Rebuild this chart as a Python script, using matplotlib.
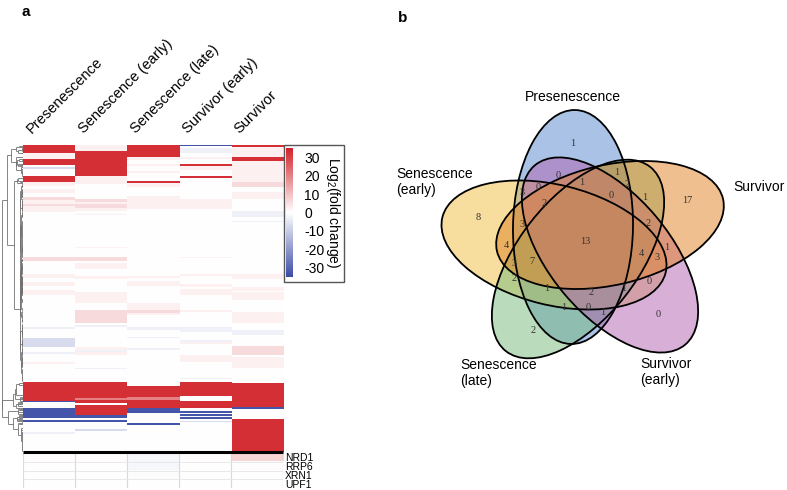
import numpy as np
import matplotlib
matplotlib.use("Agg")
import matplotlib.pyplot as plt
from matplotlib.colors import LinearSegmentedColormap, Normalize
from matplotlib.cm import ScalarMappable
from matplotlib.patches import Ellipse, Rectangle
from matplotlib.collections import LineCollection

plt.rcParams['font.family'] = ['Liberation Sans', 'DejaVu Sans']
plt.rcParams['mathtext.fontset'] = 'custom'
plt.rcParams['mathtext.rm'] = 'Liberation Sans'
plt.rcParams['mathtext.it'] = 'Liberation Sans:italic'

# ---------------- DATA ----------------
conditions = ["Presenescence", "Senescence (early)", "Senescence (late)",
              "Survivor (early)", "Survivor"]
# log2 fold-change levels used by the run-length encoded columns
level = {'R': 33.0, 'M': 20.0, 'r': 5.5, 'q': 2.2, '.': 0.0,
         'b': -2.5, 'c': -7.0, 'B': -33.0}

runs_presenescence = [(9,'R'),(6,'q'),(6,'R'),(2,'.'),(2,'c'),(7,'.'),(6,'R'),(4,'q'),(3,'.'),
    (4,'q'),(4,'.'),(3,'r'),(4,'q'),(2,'r'),(6,'q'),(45,'.'),(4,'r'),(13,'.'),(4,'q'),(4,'.'),
    (4,'q'),(4,'.'),(5,'q'),(31,'.'),(2,'b'),(9,'.'),(9,'c'),(5,'.'),(2,'b'),(8,'.'),(2,'q'),
    (18,'.'),(19,'R'),(1,'B'),(6,'.'),(10,'B'),(2,'.'),(2,'B'),(10,'.'),(2,'b'),(18,'.')]
runs_senescence_early = [(7,'q'),(25,'R'),(8,'q'),(15,'.'),(3,'r'),(2,'q'),(4,'r'),(3,'q'),
    (3,'.'),(1,'q'),(32,'.'),(1,'q'),(9,'.'),(4,'r'),(2,'.'),(6,'q'),(7,'.'),(3,'q'),(13,'.'),
    (10,'q'),(7,'.'),(13,'r'),(2,'.'),(2,'b'),(20,'.'),(3,'q'),(2,'b'),(3,'q'),(13,'.'),(1,'b'),
    (13,'.'),(16,'R'),(2,'M'),(3,'R'),(2,'.'),(10,'R'),(3,'B'),(2,'.'),(2,'B'),(7,'.'),(2,'c'),
    (21,'.')]
runs_senescence_late = [(13,'R'),(3,'q'),(4,'.'),(2,'q'),(5,'.'),(2,'q'),(8,'.'),(2,'R'),(4,'q'),
    (9,'.'),(13,'q'),(67,'.'),(2,'q'),(3,'.'),(5,'q'),(16,'.'),(7,'q'),(3,'r'),(2,'q'),(12,'.'),
    (3,'b'),(7,'.'),(1,'b'),(10,'.'),(2,'b'),(36,'.'),(11,'R'),(3,'M'),(8,'R'),(5,'B'),(10,'.'),
    (2,'B'),(27,'.')]
runs_survivor_early = [(2,'B'),(2,'.'),(5,'b'),(4,'.'),(2,'q'),(5,'.'),(2,'R'),(4,'q'),(6,'.'),
    (2,'R'),(21,'.'),(10,'q'),(48,'.'),(1,'q'),(16,'.'),(2,'q'),(8,'.'),(3,'q'),(2,'.'),(6,'q'),
    (14,'.'),(2,'q'),(15,'.'),(5,'b'),(8,'.'),(2,'b'),(2,'q'),(11,'.'),(7,'q'),(16,'.'),(1,'b'),
    (3,'.'),(14,'R'),(5,'.'),(7,'R'),(3,'.'),(2,'B'),(1,'.'),(2,'B'),(1,'.'),(2,'B'),(2,'.'),
    (1,'c'),(30,'.')]
runs_survivor = [(3,'R'),(10,'q'),(4,'R'),(21,'q'),(5,'r'),(5,'.'),(7,'q'),(12,'.'),(3,'b'),
    (3,'b'),(4,'.'),(1,'b'),(52,'.'),(5,'q'),(8,'.'),(4,'q'),(1,'.'),(7,'q'),(12,'.'),(11,'q'),
    (7,'.'),(5,'b'),(11,'.'),(9,'r'),(2,'.'),(11,'q'),(15,'.'),(24,'R'),(2,'B'),(10,'.'),(33,'R')]

genes = ["NRD1", "RRP6", "XRN1", "UPF1"]
gene_values = [[0.4, 0.3, -1.5, 0.3, 7.0],
               [0.2, 0.2, -1.5, 0.0, 0.4],
               [0.0, 0.2, -0.4, 0.0, 0.2],
               [0.0, 0.0, 0.0, 0.0, 0.0]]

cbar_ticks = [30, 20, 10, 0, -10, -20, -30]

venn_sets = ["Presenescence", "Senescence\n(early)", "Senescence\n(late)",
             "Survivor\n(early)", "Survivor"]
region_counts = [1, 0, 0, 1, 1, 2, 0, 3, 2, 8, 3, 13, 4, 7, 3, 2,
                 1, 17, 2, 1, 4, 3, 0, 2, 1, 1, 1, 0, 1, 0, 2]

# ---------------- LAYOUT ----------------
W, H = 787, 490
fig = plt.figure(figsize=(W / 100, H / 100), dpi=100)

def px_axes(x0, y0, x1, y1):
    return fig.add_axes([x0 / W, 1 - y1 / H, (x1 - x0) / W, (y1 - y0) / H])

def expand(runs):
    out = []
    for n, code in runs:
        out += [level[code]] * n
    return out

cols = [expand(r) for r in (runs_presenescence, runs_senescence_early,
                            runs_senescence_late, runs_survivor_early, runs_survivor)]
nrow = max(len(c) for c in cols)
cols = [c + [0.0] * (nrow - len(c)) for c in cols]
M = np.array(cols).T

cmap = LinearSegmentedColormap.from_list(
    "bwr_fc", [(0.0, "#3b4ca6"), (0.5, "#ffffff"), (1.0, "#d2232a")])
norm = Normalize(-35, 35)

# heatmap (main)
hx0, hx1, hy0, hy1 = 22.5, 283, 145, 452
axh = px_axes(hx0, hy0, hx1, hy1)
axh.imshow(M, cmap=cmap, norm=norm, aspect='auto', interpolation='nearest',
           extent=(0, 5, nrow, 0))
axh.set_xlim(0, 5); axh.set_ylim(nrow, 0)
axh.axis('off')

# gene rows
axg = px_axes(hx0, 453, hx1, 488)
axg.imshow(np.array(gene_values), cmap=cmap, norm=norm, aspect='auto',
           interpolation='nearest', extent=(0, 5, len(genes), 0))
axg.set_xlim(0, 5); axg.set_ylim(len(genes), 0)
for k in range(6):
    axg.axvline(k, color='#d9d9d9', lw=0.8)
for k in range(1, len(genes)):
    axg.axhline(k, color='#e6e6e6', lw=0.6)
axg.axis('off')

# dendrogram via adjacency-constrained Ward clustering of the displayed rows
clusters = [dict(n=1, c=M[i].copy(), y=i + 0.5, h=0.0) for i in range(nrow)]
segs = []
while len(clusters) > 1:
    best, bk = None, 0
    for k in range(len(clusters) - 1):
        a, b = clusters[k], clusters[k + 1]
        d = np.sqrt(2 * a['n'] * b['n'] / (a['n'] + b['n'])) * np.linalg.norm(a['c'] - b['c'])
        if best is None or d < best:
            best, bk = d, k
    a, b = clusters[bk], clusters[bk + 1]
    h = max(best, a['h'], b['h'])
    segs.append((a['h'], a['y'], h, a['y']))
    segs.append((b['h'], b['y'], h, b['y']))
    segs.append((h, a['y'], h, b['y']))
    n = a['n'] + b['n']
    clusters[bk:bk + 2] = [dict(n=n, c=(a['c'] * a['n'] + b['c'] * b['n']) / n,
                                y=(a['y'] + b['y']) / 2, h=h)]
hmax = max(s[2] for s in segs)
lines = [[((s[0] / hmax) ** 0.8, s[1]), ((s[2] / hmax) ** 0.8, s[3])] for s in segs]
axd = px_axes(1.5, hy0, 22.5, hy1)
axd.add_collection(LineCollection(lines, colors='#707070', linewidths=0.6))
axd.set_xlim(1.0, 0.0); axd.set_ylim(nrow, 0)
axd.axis('off')

# colour bar
cax = px_axes(286, 148, 293, 277)
cb = fig.colorbar(ScalarMappable(norm=norm, cmap=cmap), cax=cax, ticks=cbar_ticks)
cb.outline.set_visible(False)
cax.tick_params(length=0, pad=8, labelsize=10)
cax.set_yticklabels([str(t) for t in cbar_ticks])

# overlay axes in pixel coordinates
ax = fig.add_axes([0, 0, 1, 1])
ax.set_xlim(0, W); ax.set_ylim(H, 0)
ax.axis('off')
ax.patch.set_visible(False)

ax.add_patch(Rectangle((284, 145), 60, 137, fill=False, ec='#555555', lw=1.0))
ax.text(333, 213, r'Log$_{\mathregular{2}}$(fold change)', rotation=270,
        ha='center', va='center', fontsize=10)
ax.plot([hx0, hx1], [452, 452], color='black', lw=2.2, solid_capstyle='butt')

for j, name in enumerate(conditions):
    cx = hx0 + (j + 0.5) * (hx1 - hx0) / 5
    ax.text(cx - 15, 136, name, rotation=45, rotation_mode='anchor',
            ha='left', va='bottom', fontsize=10.5)
for i, g in enumerate(genes):
    ax.text(285, 457.5 + i * 9, g, ha='left', va='center', fontsize=7.5)

ax.text(22, 12, 'a', fontsize=11, fontweight='bold', ha='left', va='center')
ax.text(398, 18, 'b', fontsize=11, fontweight='bold', ha='left', va='center')

# ---- Venn diagram ----
venn_colors = ['#5587CD', '#F1BF41', '#77BB7D', '#B161B1', '#E18123']
# (cx, cy, semi-major, semi-minor, screen angle of major axis in degrees)
venn_ellipses = [(573, 227, 117, 60, 89),
                 (554, 245, 115, 60, -14),
                 (578, 259, 117, 60, 52),
                 (610, 255, 117, 60, -50),
                 (610, 225, 116, 60, 13)]
for (cx, cy, a, b, ang), col in zip(venn_ellipses, venn_colors):
    ax.add_patch(Ellipse((cx, cy), 2 * a, 2 * b, angle=-ang, fc=col, ec='none', alpha=0.5))
for (cx, cy, a, b, ang) in venn_ellipses:
    ax.add_patch(Ellipse((cx, cy), 2 * a, 2 * b, angle=-ang, fc='none', ec='black', lw=1.3))

region_label_pos = [(573,143),(558,175),(538,187),(582,182),(617,172),(627,184),(611,195),
                    (522,192),(544,203),(478,217),(522,224),(585,241),(506,245),(532,261),
                    (514,263),(514,278),(645,197),(687,200),(648,223),(667,247),(641,253),
                    (657,257),(649,281),(591,292),(624,288),(547,288),(564,307),(588,307),
                    (603,312),(658,314),(533,330)]
for (x, y), c in zip(region_label_pos, region_counts):
    ax.text(x, y, str(c), ha='center', va='center', fontsize=7.5,
            family=['Liberation Serif', 'DejaVu Serif'], color='#333333')

set_label_pos = [(573, 97, 'center'), (396, 182, 'left'), (460, 373, 'left'),
                 (640, 372, 'left'), (733, 187, 'left')]
for (x, y, ha), name in zip(set_label_pos, venn_sets):
    ax.text(x, y, name, ha=ha, va='center', fontsize=10, linespacing=1.25)

fig.savefig("out.png", dpi=100)
